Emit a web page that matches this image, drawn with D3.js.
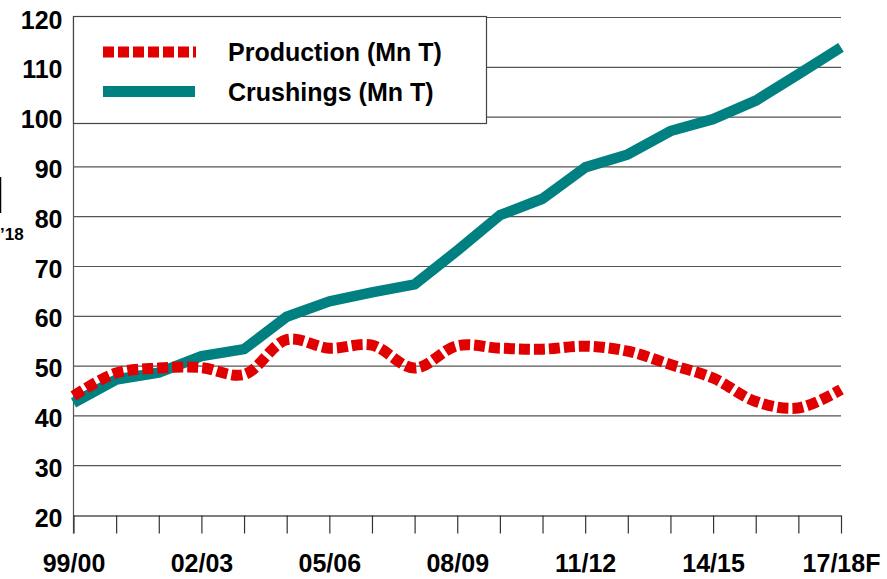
<html>
    <style>
        body { margin: 0; background: #fff; }
        text { font-family: "Liberation Sans", Arial, sans-serif; font-weight: bold; fill: #000; }
    </style>
    <body>
        <div id="chart"><svg></svg></div>
    </body>
    <script src="https://d3js.org/d3.v7.min.js"></script>
    <script>
    // seasons on the x axis, only every third one gets a label
    var seasons = ["99/00","00/01","01/02","02/03","03/04","04/05","05/06","06/07","07/08","08/09",
                   "09/10","10/11","11/12","12/13","13/14","14/15","15/16","16/17","17/18F"]
    var labelledSeasons = ["99/00","02/03","05/06","08/09","11/12","14/15","17/18F"]
    var yTicks = [20,30,40,50,60,70,80,90,100,110,120]

    var production = [44.0,48.6,49.6,49.7,48.3,55.3,53.6,54.2,49.6,54.1,53.6,53.4,54.0,53.0,50.3,47.6,42.9,41.6,45.3]
    var crushings  = [42.6,47.3,48.7,52.0,53.4,59.9,63.0,64.8,66.4,73.2,80.3,83.6,89.9,92.5,97.2,99.6,103.3,108.6,114.0]

    var screen = {width: 887, height: 579}
    var plot = {left: 73.5, right: 841, top: 17.5, bottom: 515.5}

    var svg = d3.select("#chart svg")
                .attr("width", screen.width)
                .attr("height", screen.height)

    var xScale = d3.scalePoint()
                   .domain(seasons)
                   .range([plot.left, plot.right])
    var yScale = d3.scaleLinear()
                   .domain([20, 120])
                   .range([plot.bottom, plot.top])

    // horizontal grid lines
    svg.append("g")
       .selectAll("line")
       .data(yTicks.filter(function(t){return t > 20}))
       .enter()
       .append("line")
       .attr("x1", plot.left)
       .attr("x2", plot.right)
       .attr("y1", function(t){return yScale(t)})
       .attr("y2", function(t){return yScale(t)})
       .attr("stroke", "#555")
       .attr("stroke-width", 1.2)

    // y axis
    var yAxis = d3.axisLeft(yScale)
                  .tickValues(yTicks)
                  .tickSize(0)
                  .tickPadding(11)
    var yG = svg.append("g")
                .attr("transform", "translate(" + plot.left + ",0)")
                .call(yAxis)
    yG.select(".domain").remove()
    yG.selectAll("text")
      .attr("dy", "0.42em")
      .style("font-size", "25px")
      .style("font-family", "'Liberation Sans', Arial, sans-serif")
      .style("font-weight", "bold")
    svg.append("line")
       .attr("x1", plot.left).attr("x2", plot.left)
       .attr("y1", plot.top - 1).attr("y2", plot.bottom + 18)
       .attr("stroke", "#555")
       .attr("stroke-width", 1.2)

    // x axis
    var xAxis = d3.axisBottom(xScale)
                  .tickSizeInner(18)
                  .tickSizeOuter(0)
                  .tickPadding(21)
                  .tickFormat(function(s){return labelledSeasons.indexOf(s) >= 0 ? s : ""})
    var xG = svg.append("g")
                .attr("transform", "translate(0," + plot.bottom + ")")
                .call(xAxis)
    xG.select(".domain").attr("stroke", "#000").attr("stroke-width", 1.2)
    xG.selectAll(".tick line").attr("stroke", "#333").attr("stroke-width", 1.2)
    xG.selectAll("text")
      .style("font-size", "25px")
      .style("font-family", "'Liberation Sans', Arial, sans-serif")
      .style("font-weight", "bold")

    // the two series
    var crushLine = d3.line()
                      .x(function(v, i){return xScale(seasons[i])})
                      .y(function(v){return yScale(v)})
    var prodLine = d3.line()
                     .x(function(v, i){return xScale(seasons[i])})
                     .y(function(v){return yScale(v)})
                     .curve(d3.curveCatmullRom.alpha(0.5))

    svg.append("path")
       .datum(crushings)
       .attr("d", crushLine)
       .attr("fill", "none")
       .attr("stroke", "#008080")
       .attr("stroke-width", 10.5)
       .attr("stroke-linejoin", "round")

    svg.append("path")
       .datum(production)
       .attr("d", prodLine)
       .attr("fill", "none")
       .attr("stroke", "#e00000")
       .attr("stroke-width", 11)
       .attr("stroke-dasharray", "11,4")

    // legend
    var legend = svg.append("g")
    legend.append("rect")
          .attr("x", 73.5).attr("y", 16.5)
          .attr("width", 413).attr("height", 107)
          .attr("fill", "#fff")
          .attr("stroke", "#444")
          .attr("stroke-width", 1.2)
    legend.append("line")
          .attr("x1", 103).attr("x2", 196)
          .attr("y1", 52).attr("y2", 52)
          .attr("stroke", "#e00000")
          .attr("stroke-width", 11)
          .attr("stroke-dasharray", "11,4")
    legend.append("line")
          .attr("x1", 103).attr("x2", 195)
          .attr("y1", 91.5).attr("y2", 91.5)
          .attr("stroke", "#008080")
          .attr("stroke-width", 11)
    legend.append("text")
          .attr("x", 228).attr("y", 61)
          .style("font-size", "25px")
          .text("Production (Mn T)")
    legend.append("text")
          .attr("x", 228).attr("y", 101)
          .style("font-size", "25px")
          .text("Crushings (Mn T)")

    // clipped leftovers at the left edge
    svg.append("line")
       .attr("x1", 0.5).attr("x2", 0.5)
       .attr("y1", 177).attr("y2", 213)
       .attr("stroke", "#000")
       .attr("stroke-width", 1.5)
    svg.append("text")
       .attr("x", 0).attr("y", 240)
       .style("font-size", "17px")
       .text("\u201918")
    </script>
</html>
